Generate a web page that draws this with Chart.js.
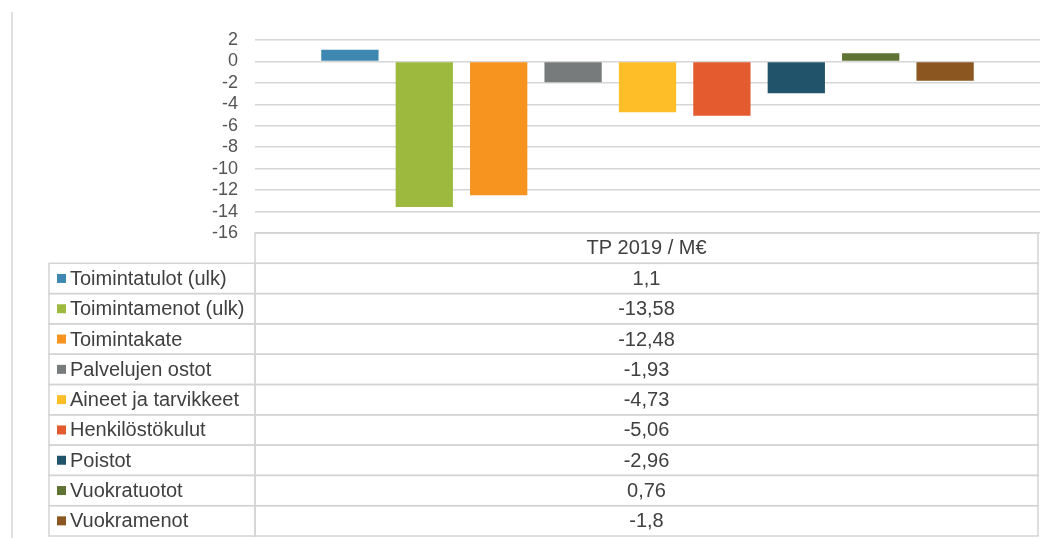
<!DOCTYPE html>
<html>
<head>
<meta charset="utf-8">
<script src="https://cdn.jsdelivr.net/npm/chart.js"></script>
<style>
  html, body { margin: 0; padding: 0; background: #fff; }
  #wrap { width: 1048px; height: 538px; }
</style>
</head>
<body>
<div id="wrap"><canvas id="combinedChart" width="1048" height="538"></canvas></div>
<script>
// data
var seriesNames = ['Toimintatulot (ulk)', 'Toimintamenot (ulk)', 'Toimintakate', 'Palvelujen ostot',
    'Aineet ja tarvikkeet', 'Henkilöstökulut', 'Poistot', 'Vuokratuotot', 'Vuokramenot'];
var seriesValues = [1.1, -13.58, -12.48, -1.93, -4.73, -5.06, -2.96, 0.76, -1.8];
var seriesColors = ['#3d87b1', '#9dba3f', '#f7931f', '#787b7c', '#fdbe28', '#e35b2f', '#21536b', '#5f7332', '#8b561f'];
var columnTitle = 'TP 2019 / M€';
var categories = [''];

var rowFont = '20px "Liberation Sans", Arial, sans-serif';
var textColor = '#404040';
var lineColor = '#d4d4d4';

function fmt(v) {
    return String(v).replace('.', ',');
}

// data table under the plot, lined up with the chart area
var dataTable = {
    id: 'dataTable',
    afterDraw: function (chart) {
        var ctx = chart.ctx;
        var area = chart.chartArea;
        var top = area.bottom;
        var bottom = chart.height - 2;
        var rowH = (bottom - top) / (seriesNames.length + 1);
        var leftX = 49;
        var midX = area.left;
        var rightX = area.right - 2;

        ctx.save();
        // outer frame line on the left
        ctx.strokeStyle = lineColor;
        ctx.lineWidth = 1.5;
        ctx.beginPath();
        ctx.moveTo(12, 12);
        ctx.lineTo(12, chart.height);
        ctx.stroke();

        // header cell
        ctx.strokeRect(midX, top, rightX - midX, rowH);
        ctx.font = rowFont;
        ctx.fillStyle = textColor;
        ctx.textBaseline = 'middle';
        ctx.textAlign = 'center';
        ctx.fillText(columnTitle, (midX + rightX) / 2, top + rowH / 2);

        seriesNames.forEach(function (name, i) {
            var y = top + rowH * (i + 1);
            ctx.strokeStyle = lineColor;
            ctx.strokeRect(leftX, y, midX - leftX, rowH);
            ctx.strokeRect(midX, y, rightX - midX, rowH);

            ctx.fillStyle = seriesColors[i];
            ctx.fillRect(57, y + rowH / 2 - 4.5, 9, 9);

            ctx.fillStyle = textColor;
            ctx.textAlign = 'left';
            ctx.fillText(name, 70, y + rowH / 2 + 1);
            ctx.textAlign = 'center';
            ctx.fillText(fmt(seriesValues[i]), (midX + rightX) / 2, y + rowH / 2 + 1);
        });
        ctx.restore();
    }
};

var datasets = seriesNames.map(function (name, i) {
    return {
        label: name,
        data: [seriesValues[i]],
        backgroundColor: seriesColors[i],
        borderWidth: 0,
        barPercentage: 0.77,
        categoryPercentage: 0.853
    };
});

var ctx = document.getElementById('combinedChart').getContext('2d');
var chart = new Chart(ctx, {
    type: 'bar',
    data: { labels: categories, datasets: datasets },
    options: {
        responsive: false,
        animation: false,
        layout: { padding: { left: 0, top: 40, right: 8, bottom: 305 } },
        plugins: {
            legend: { display: false },
            tooltip: { enabled: false }
        },
        scales: {
            x: { display: false },
            y: {
                min: -16,
                max: 2,
                afterFit: function (scale) { scale.width = 255; },
                border: { display: false },
                grid: { color: '#d6d6d6', lineWidth: 1.5, drawTicks: false },
                ticks: {
                    stepSize: 2,
                    autoSkip: false,
                    padding: 17,
                    color: '#555555',
                    font: { family: '"Liberation Sans", Arial, sans-serif', size: 18 }
                }
            }
        }
    },
    plugins: [dataTable]
});
</script>
</body>
</html>
